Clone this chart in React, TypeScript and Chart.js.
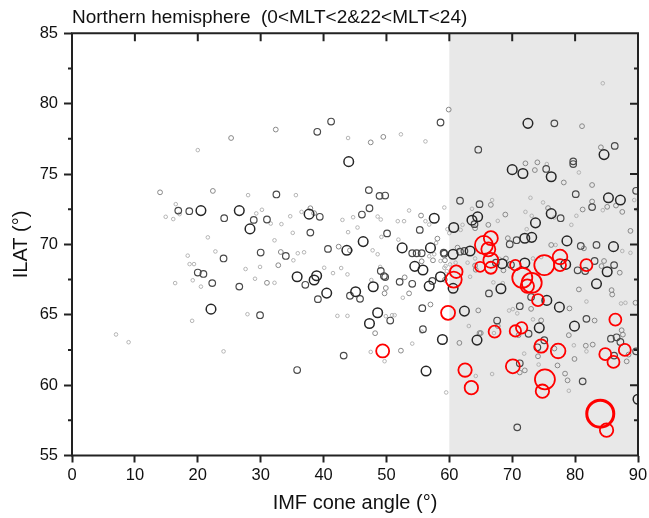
import React, { useEffect, useRef } from "react";
import { Chart, registerables } from "chart.js";

Chart.register(...registerables);

const FONT = "'Liberation Sans', Arial, sans-serif";
const TITLE = "Northern hemisphere  (0<MLT<2&22<MLT<24)";
const X_TITLE = "IMF cone angle (°)";
const Y_TITLE = "ILAT (°)";

const xRange = [0, 90];
const yRange = [55, 85];
const shadeRange = [60, 90];

// light gray, smallest events
const tinyPts: [number, number][] = [
  [16.5, 72.86], [17.1, 72.15], [14.9, 71.96], [16.1, 71.8], [21.6, 70.5], [22.8, 69.5], [18.4, 69.2],
  [18.7, 68.6], [19.4, 68.6], [27.6, 68.25], [29.9, 68.4], [19.2, 67.45], [29.1, 67.56], [16.4, 67.25],
  [20.5, 67.0], [27.9, 65.04], [19.1, 64.57], [7.0, 63.6], [9.0, 63.05], [24.1, 62.4], [28.0, 73.5],
  [29.3, 72.2], [20.0, 76.7], [30.2, 72.46],
  [35.6, 73.5], [31.6, 71.48], [33.3, 71.44], [34.7, 72.0], [36.5, 72.31], [43.0, 71.74], [44.7, 71.93],
  [48.6, 71.98], [49.1, 71.77], [53.6, 72.41], [56.2, 71.65], [56.8, 71.41], [59.2, 72.62], [35.1, 70.82],
  [43.9, 70.87], [45.4, 71.2], [49.2, 70.53], [51.8, 71.65], [52.8, 71.65], [51.9, 70.34], [57.9, 70.1],
  [32.2, 70.29], [35.2, 68.87], [35.9, 69.37], [36.9, 69.44], [47.8, 69.58], [48.6, 69.3], [56.8, 69.16],
  [57.6, 69.3], [58.6, 68.82], [59.2, 68.34], [32.2, 67.27], [40.1, 68.34], [42.8, 68.32], [41.5, 67.96],
  [43.8, 67.87], [47.6, 67.47], [49.0, 68.4], [52.6, 66.21], [49.9, 64.9], [50.9, 64.97], [51.3, 64.97],
  [42.2, 64.92], [43.8, 64.92], [43.9, 77.56], [52.3, 77.82], [56.2, 77.32], [47.5, 62.36], [49.7, 61.7],
  [54.1, 62.95], [55.6, 63.8], [59.5, 59.48],
  [84.4, 81.45], [75.5, 75.71], [80.6, 75.11], [84.4, 72.43], [89.4, 73.15], [89.9, 72.48], [72.9, 73.31],
  [74.9, 72.98], [76.7, 71.91], [72.1, 72.31], [73.1, 72.03], [72.3, 71.08], [79.4, 71.39], [80.2, 72.03],
  [66.8, 73.15], [63.6, 72.53], [67.7, 71.67], [59.7, 71.08], [61.8, 71.03], [62.1, 71.39], [60.1, 68.58],
  [61.0, 68.7], [62.9, 68.7], [64.1, 69.0], [59.4, 68.46], [59.6, 68.1], [63.3, 67.7], [68.0, 68.97],
  [73.3, 69.0], [74.6, 69.1], [76.9, 69.96], [87.5, 69.53], [88.8, 69.4], [88.0, 65.85], [87.3, 65.8],
  [81.8, 65.94], [67.0, 67.3], [68.5, 67.25], [70.1, 65.4], [69.5, 65.3], [70.8, 65.1], [63.1, 64.2],
  [73.3, 64.67], [67.1, 63.7], [60.0, 70.8], [79.8, 62.83], [81.8, 62.4], [79.0, 59.6], [66.8, 60.79],
  [64.2, 60.65], [71.9, 62.24], [74.2, 61.46],
];

// mid gray, small events
const smallPts: [number, number][] = [
  [14.0, 73.7], [22.4, 73.8], [25.3, 77.56], [32.4, 78.16],
  [37.9, 72.57], [38.5, 72.22], [33.2, 69.46], [42.4, 69.84], [44.2, 69.58], [58.1, 70.41], [55.6, 68.8],
  [57.4, 68.87], [59.3, 68.87], [32.8, 68.52], [31.0, 67.27], [49.9, 66.9], [49.7, 66.52], [52.9, 67.66],
  [53.6, 66.52], [59.3, 67.49], [57.0, 65.73], [48.2, 63.69], [55.5, 72.05], [47.5, 77.25], [49.5, 77.64],
  [59.9, 79.58], [52.3, 62.45],
  [81.1, 78.4], [84.1, 76.9], [72.1, 75.76], [74.0, 75.83], [73.6, 75.28], [78.2, 74.4], [82.7, 74.22],
  [82.7, 73.05], [85.1, 72.67], [86.5, 72.76], [87.5, 72.31], [88.8, 70.96], [75.7, 72.58], [68.9, 72.12],
  [81.2, 72.48], [66.6, 72.81], [66.2, 71.39], [64.1, 71.15], [69.3, 70.44], [61.3, 69.77], [76.2, 69.96],
  [81.4, 69.72], [69.0, 69.0], [68.6, 68.16], [84.6, 68.82], [84.2, 68.46], [87.1, 67.99], [85.8, 66.75],
  [85.9, 66.44], [89.6, 65.85], [80.6, 66.8], [73.0, 65.42], [79.1, 65.45], [64.6, 65.31], [83.1, 64.59],
  [64.1, 68.5], [64.2, 68.2], [67.7, 64.2], [74.6, 64.6], [79.0, 63.55], [65.0, 63.7], [87.4, 63.9],
  [61.6, 63.0], [74.1, 62.05], [76.7, 62.6], [81.7, 62.8], [82.8, 62.88], [87.6, 63.59], [88.2, 61.69],
  [88.5, 62.17], [71.2, 60.9], [72.0, 61.05], [77.2, 61.4], [78.4, 60.82], [78.8, 60.34], [79.9, 61.86],
  [71.0, 63.55], [64.8, 63.7],
];

// dark gray, medium events
const mediumPts: [number, number][] = [
  [16.9, 72.4], [18.65, 72.36], [24.2, 71.86], [28.9, 71.74], [24.1, 69.0], [20.0, 68.0], [20.9, 67.9],
  [22.3, 67.25], [26.6, 67.0], [29.9, 64.97], [30.0, 69.42], [35.8, 61.07],
  [32.5, 73.55], [47.2, 73.86], [48.9, 73.45], [49.8, 73.47], [31.0, 71.77], [39.4, 71.96], [46.1, 72.12],
  [47.3, 72.57], [37.9, 70.84], [50.1, 70.78], [55.3, 71.03], [59.1, 69.41], [34.0, 69.18], [40.7, 69.68],
  [54.1, 69.37], [54.8, 69.37], [55.6, 69.37], [37.1, 67.13], [39.1, 66.11], [44.2, 66.35], [45.8, 66.13],
  [49.1, 68.11], [49.6, 67.75], [49.8, 67.68], [52.1, 67.34], [54.1, 67.2], [57.3, 67.4], [55.7, 65.47],
  [50.6, 64.59], [55.8, 63.97], [39.0, 78.0], [41.2, 78.73], [58.6, 78.66], [43.2, 62.1],
  [76.7, 78.6], [64.6, 76.73], [86.3, 77.0], [75.4, 75.36], [79.7, 75.9], [79.7, 75.71], [89.7, 73.81],
  [80.1, 73.57], [82.7, 72.65], [77.7, 71.86], [61.7, 73.1], [64.8, 72.86], [64.0, 71.44], [59.2, 69.34],
  [61.7, 69.48], [62.4, 69.53], [69.6, 70.01], [80.9, 69.89], [83.4, 69.96], [69.8, 68.55], [67.4, 68.7],
  [80.4, 68.16], [81.6, 68.11], [83.1, 68.82], [86.2, 68.53], [66.3, 66.52], [73.0, 66.26], [71.2, 65.61],
  [67.6, 64.59], [81.8, 64.71], [85.7, 63.3], [86.6, 63.4], [74.0, 62.69], [75.1, 63.19], [87.2, 63.07],
  [86.2, 62.1], [89.7, 62.4], [71.2, 61.55], [81.2, 60.27], [70.8, 57.0], [72.6, 63.65], [70.7, 70.3],
];

// near-black, large events
const largePts: [number, number][] = [
  [20.5, 72.4], [26.6, 72.4], [28.3, 71.1], [22.1, 65.4],
  [44.0, 75.88], [37.7, 72.15], [57.6, 71.86], [46.3, 70.2], [52.5, 69.75], [57.0, 69.75], [43.7, 69.58],
  [54.5, 68.44], [55.8, 68.18], [35.8, 67.7], [38.9, 67.77], [38.5, 67.47], [40.5, 66.54], [45.1, 66.64],
  [47.9, 66.99], [56.8, 67.04], [58.6, 67.7], [48.6, 65.14], [47.3, 64.38], [58.9, 63.24], [56.3, 61.0],
  [72.5, 78.6], [84.6, 76.38], [70.0, 75.31], [71.7, 75.04], [76.2, 74.81], [85.3, 73.31], [87.2, 73.15],
  [76.2, 72.19], [73.7, 71.53], [64.5, 71.96], [63.6, 71.72], [60.7, 71.2], [72.0, 70.44], [73.1, 70.5],
  [78.7, 70.25], [60.6, 69.3], [63.3, 69.53], [86.1, 69.84], [60.6, 66.88], [68.4, 68.63], [72.0, 68.68],
  [78.5, 68.58], [85.1, 68.06], [83.4, 67.2], [68.2, 66.85], [75.5, 66.02], [77.5, 65.54], [62.4, 65.26],
  [79.9, 64.19], [74.3, 64.07], [64.4, 63.2], [90.0, 59.0],
];

// red events: cone angle, ILAT, bubble size
const redX = [49.4, 59.8, 60.7, 61.1, 62.5, 63.5, 64.9, 65.5, 66.2, 66.6, 66.6, 66.6, 67.2, 70.5, 70.5, 71.5, 70.1, 71.6,
  73.1, 72.4, 74.1, 74.6, 75.2, 74.8, 75.1, 77.6, 77.6, 77.3, 81.8, 84.0, 85.0, 84.8, 86.1, 87.9, 86.4];
const redY = [62.43, 65.14, 67.5, 68.06, 61.07, 59.82, 68.41, 69.96, 69.65, 70.44, 68.87, 68.34, 63.8, 68.53, 63.85, 64.07,
  61.34, 67.63, 67.27, 67.04, 66.04, 62.78, 60.41, 59.57, 68.53, 69.11, 68.53, 62.43, 68.53, 57.97, 56.8, 62.2, 61.65, 62.5, 64.66];
const redSize = [6.5, 7, 8, 6.3, 6.7, 6.7, 5, 9, 7, 7, 7.5, 6, 6, 5.3, 5.7, 5.7, 7, 10, 10, 6.7, 6, 6.7, 10, 6.7, 10, 7.3,
  6, 7.3, 6, 13.5, 6.7, 6, 6, 6, 6];

const toBubbles = (pts: [number, number][], r: number) => pts.map(([x, y]) => ({ x, y, r }));

const framePlugin = {
  id: "frame",
  beforeDatasetsDraw(chart: any) {
    const { ctx, chartArea, scales } = chart;
    const x0 = scales.x.getPixelForValue(shadeRange[0]);
    const x1 = scales.x.getPixelForValue(shadeRange[1]);
    ctx.save();
    ctx.fillStyle = "#e8e8e8";
    ctx.fillRect(x0, chartArea.top, x1 - x0, chartArea.bottom - chartArea.top);
    ctx.restore();
  },
  afterDraw(chart: any) {
    const { ctx, chartArea, scales } = chart;
    const { left, right, top, bottom } = chartArea;
    ctx.save();
    ctx.strokeStyle = "#222";
    ctx.lineWidth = 2;
    ctx.beginPath();
    ctx.rect(left, top, right - left, bottom - top);
    // top inward major ticks
    scales.x.ticks.forEach((t: any) => {
      const px = scales.x.getPixelForValue(t.value);
      ctx.moveTo(px, top);
      ctx.lineTo(px, top + 8);
    });
    // right inward ticks, major and minor; left outward minor
    const yt = scales.y.ticks.map((t: any) => t.value);
    yt.forEach((v: number, i: number) => {
      const py = scales.y.getPixelForValue(v);
      ctx.moveTo(right, py);
      ctx.lineTo(right - 8, py);
      if (i < yt.length - 1) {
        const pm = scales.y.getPixelForValue((v + yt[i + 1]) / 2);
        ctx.moveTo(right, pm);
        ctx.lineTo(right - 4, pm);
        ctx.moveTo(left, pm);
        ctx.lineTo(left - 4, pm);
      }
    });
    ctx.stroke();
    ctx.restore();
  },
};

export default function App() {
  const ref = useRef<HTMLCanvasElement | null>(null);

  useEffect(() => {
    if (!ref.current) return;
    const grayBase = { type: "bubble" as const, backgroundColor: "rgba(0,0,0,0)", clip: 0 };
    const chart = new Chart(ref.current, {
      type: "bubble",
      data: {
        datasets: [
          {
            label: "red",
            data: redX.map((x, i) => ({ x, y: redY[i], r: redSize[i] })),
            borderColor: "#ff0000",
            backgroundColor: "rgba(0,0,0,0)",
            borderWidth: (c: any) => (c.raw && c.raw.r > 12 ? 3 : 1.8),
            clip: 0,
            order: 0,
          },
          { ...grayBase, label: "large", data: toBubbles(largePts, 4.8), borderColor: "#262626", borderWidth: 1.5, order: 1 },
          { ...grayBase, label: "medium", data: toBubbles(mediumPts, 3.3), borderColor: "#4a4a4a", borderWidth: 1.2, order: 2 },
          { ...grayBase, label: "small", data: toBubbles(smallPts, 2.4), borderColor: "#888888", borderWidth: 1, order: 3 },
          { ...grayBase, label: "tiny", data: toBubbles(tinyPts, 1.8), borderColor: "#b4b4b4", borderWidth: 1, order: 4 },
        ] as any,
      },
      options: {
        animation: false,
        responsive: false,
        devicePixelRatio: 1,
        events: [],
        layout: { autoPadding: false, padding: { left: 0, right: 11, top: 0, bottom: 0 } },
        plugins: {
          legend: { display: false },
          tooltip: { enabled: false },
          title: {
            display: true,
            text: TITLE,
            align: "start",
            fullSize: false,
            color: "#111",
            font: { family: FONT, size: 19, weight: "normal" },
            padding: { top: 6, bottom: 4.5 },
          },
        },
        scales: {
          x: {
            type: "linear",
            position: "bottom",
            min: xRange[0],
            max: xRange[1],
            ticks: { stepSize: 10, color: "#111", font: { family: FONT, size: 16.5 }, padding: 3 },
            grid: { drawOnChartArea: false, drawTicks: true, tickLength: 7, tickColor: "#222", tickWidth: 2 },
            border: { display: false },
            title: {
              display: true,
              text: X_TITLE,
              color: "#111",
              font: { family: FONT, size: 20 },
              padding: { top: 0, bottom: 3 },
            },
            afterFit: (s: any) => {
              s.height = 62.5;
              s.paddingLeft = 0;
              s.paddingRight = 0;
            },
          },
          y: {
            type: "linear",
            position: "left",
            min: yRange[0],
            max: yRange[1],
            ticks: { stepSize: 5, color: "#111", font: { family: FONT, size: 16.5 }, padding: 6 },
            grid: { drawOnChartArea: false, drawTicks: true, tickLength: 8, tickColor: "#222", tickWidth: 2 },
            border: { display: false },
            title: {
              display: true,
              text: Y_TITLE,
              color: "#111",
              font: { family: FONT, size: 20 },
              padding: { top: 9, bottom: 0 },
            },
            afterFit: (s: any) => {
              s.width = 72;
              s.paddingTop = 0;
              s.paddingBottom = 0;
            },
          },
        },
      } as any,
      plugins: [framePlugin],
    });
    return () => chart.destroy();
  }, []);

  return (
    <div style={{ position: "fixed", left: 0, top: 0, width: 649, height: 518, background: "#fff" }}>
      <canvas ref={ref} width={649} height={518} style={{ display: "block" }} />
    </div>
  );
}
